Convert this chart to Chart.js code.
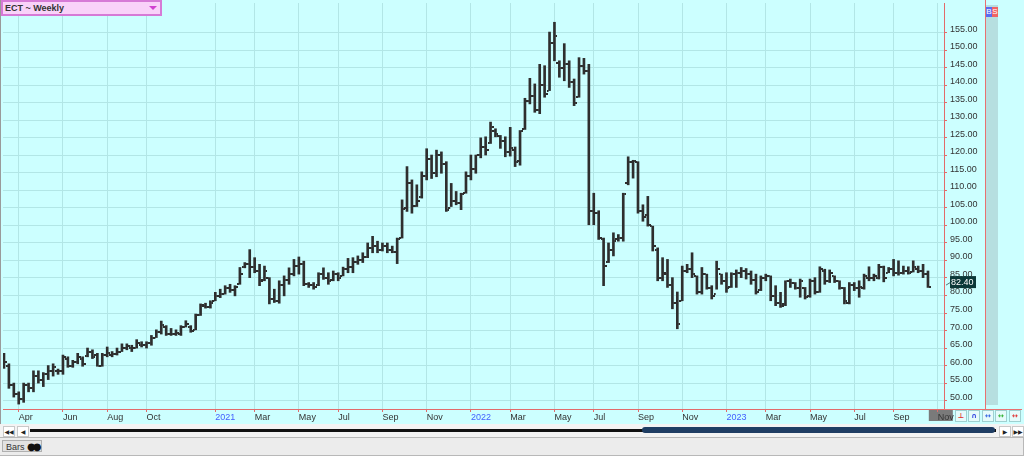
<!DOCTYPE html>
<html>
<head>
<meta charset="utf-8">
<title>ECT ~ Weekly</title>
<script src="https://cdn.jsdelivr.net/npm/chart.js@4.4.0/dist/chart.umd.min.js"></script>
<style>
  html, body { margin: 0; padding: 0; }
  body { width: 1024px; height: 456px; overflow: hidden; background: #ccffff; font-family: "Liberation Sans", Arial, sans-serif; }
  #wrap { position: relative; width: 1024px; height: 456px; }
  #grafico { position: absolute; left: 0; top: 0; }
  .abs { position: absolute; }
  #bordeIzq { left: 0; top: 0; width: 1px; height: 424px; background: #9a9a9a; }
  #titulo { left: 1px; top: 0; width: 155px; height: 12px; background: #f9d2f9; border: 2px solid #d67ad6; font: bold 9px "Liberation Sans", Arial, sans-serif; color: #333; line-height: 12px; padding-left: 2px; }
  #titulo .flecha { position: absolute; right: 3px; top: 4px; width: 0; height: 0; border-left: 4px solid transparent; border-right: 4px solid transparent; border-top: 4px solid #d040d0; }
  #lineaRoja { left: 985px; top: 0; width: 1px; height: 409px; background: #e87070; }
  #franja { left: 986px; top: 5px; width: 12px; height: 400px; background: #b6dfe0; }
  #ejeRojo { left: 944px; top: 409px; width: 78px; height: 1px; background: #e87070; }
  .bs { top: 7px; width: 6px; height: 10px; color: #fff; font: 8px "Liberation Sans", Arial, sans-serif; line-height: 10px; text-align: center; }
  #btnB { left: 986px; background: #5a6cf0; }
  #btnS { left: 992px; background: #f06464; }
  .icono { top: 410px; width: 10px; height: 10px; border: 1px solid #9fd0d0; background: #e6fbfb; font: bold 7px "DejaVu Sans", sans-serif; line-height: 10px; text-align: center; }
  #barraScroll { left: 0; top: 424px; width: 1024px; height: 13px; background: #f3f3f3; }
  .btnScroll { top: 426px; width: 10px; height: 9px; background: #fff; border: 1px solid #c8c8c8; font: 6px "DejaVu Sans", sans-serif; line-height: 9px; text-align: center; color: #222; }
  #pista { left: 30px; top: 429px; width: 966px; height: 3px; background: #111; }
  #pulgar { left: 642px; top: 427px; width: 353px; height: 6px; background: #1f3d63; border-radius: 3px; }
  #panel { left: 0; top: 437px; width: 1023px; height: 17px; background: #ececec; border-top: 1px solid #b8b8b8; border-bottom: 1px solid #b8b8b8; border-right: 1px solid #b8b8b8; }
  #pestana { left: 2px; top: 440px; width: 40px; height: 12px; background: #e2e2e2; border: 1px solid #b0b0b0; font: 9px "Liberation Sans", Arial, sans-serif; color: #333; line-height: 12px; padding-left: 3px; box-sizing: border-box; white-space: nowrap; }
  #pestana span { font: 10px "DejaVu Sans", sans-serif; color: #111; letter-spacing: -3px; vertical-align: top; }
</style>
</head>
<body>
<div id="wrap">
  <canvas id="grafico" width="986" height="424"></canvas>
  <div id="bordeIzq" class="abs"></div>
  <div id="titulo" class="abs">ECT ~ Weekly<span class="flecha"></span></div>
  <div id="lineaRoja" class="abs"></div>
  <div id="franja" class="abs"></div>
  <div id="ejeRojo" class="abs"></div>
  <div id="btnB" class="abs bs">B</div>
  <div id="btnS" class="abs bs">S</div>
  <div class="abs icono" style="left:955px;color:#e03030">⊥</div>
  <div class="abs icono" style="left:968px;color:#3040e0">∩</div>
  <div class="abs icono" style="left:982px;color:#3060e0">↔</div>
  <div class="abs icono" style="left:995px;color:#30b030">↔</div>
  <div class="abs icono" style="left:1009px;color:#e03030">↔</div>
  <div id="barraScroll" class="abs"></div>
  <div class="abs btnScroll" style="left:3px">◀◀</div>
  <div class="abs btnScroll" style="left:17px">◀</div>
  <div id="pista" class="abs"></div>
  <div id="pulgar" class="abs"></div>
  <div class="abs btnScroll" style="left:999px">▶</div>
  <div class="abs btnScroll" style="left:1012px">▶▶</div>
  <div id="panel" class="abs"></div>
  <div id="pestana" class="abs">Bars <span>●●</span></div>
</div>
<script>
// Weekly bars, ECT
const highs = [
  63.5, 60.5, 55.0, 52.5, 55.0, 55.0, 58.5, 58.5, 58.0, 60.0,
  60.5, 59.0, 63.0, 62.5, 61.5, 63.5, 62.5, 65.0, 64.5, 63.5,
  63.5, 65.3, 64.0, 65.0, 66.2, 66.2, 65.8, 67.4, 66.8, 66.8,
  68.6, 70.2, 72.7, 71.4, 70.6, 70.2, 71.4, 72.8, 71.4, 74.7,
  77.6, 77.8, 78.5, 80.9, 81.8, 82.8, 83.2, 82.8, 88.0, 89.4,
  93.1, 90.8, 88.9, 88.4, 85.1, 81.8, 84.2, 85.6, 87.9, 90.3,
  91.0, 89.8, 83.7, 83.7, 86.5, 87.9, 86.5, 87.0, 86.5, 88.1,
  90.6, 90.8, 91.3, 92.2, 95.0, 96.9, 95.5, 95.0, 95.0, 94.1,
  96.4, 107.3, 116.8, 113.0, 111.6, 115.3, 121.9, 120.1, 121.5, 121.0,
  118.2, 112.0, 109.7, 109.2, 115.3, 120.1, 120.1, 125.0, 125.3, 129.5,
  127.6, 125.7, 125.3, 128.0, 122.4, 127.1, 136.3, 142.0, 140.4, 146.0,
  145.6, 155.2, 158.0, 147.0, 151.9, 147.0, 141.8, 147.9, 147.7, 146.0,
  109.2, 104.2, 96.4, 95.0, 97.9, 97.4, 109.2, 119.6, 118.6, 118.2,
  105.9, 108.3, 99.8, 93.6, 90.8, 90.3, 85.1, 81.0, 88.4, 88.9,
  92.2, 85.6, 88.0, 86.1, 82.8, 89.8, 86.1, 86.5, 86.5, 87.3,
  88.0, 87.7, 87.0, 86.1, 85.6, 86.1, 85.6, 82.8, 80.9, 84.2,
  84.7, 83.7, 84.7, 82.3, 84.7, 85.1, 88.2, 87.5, 87.3, 85.6,
  84.2, 82.3, 83.7, 83.7, 84.2, 86.1, 88.2, 86.1, 88.9, 88.4,
  88.0, 90.3, 89.9, 88.4, 88.2, 89.9, 88.4, 88.9, 87.0
];
const lows = [
  59.2, 53.5, 51.0, 49.0, 49.5, 52.5, 52.5, 55.0, 54.0, 56.0,
  57.0, 57.5, 57.5, 59.5, 59.5, 60.5, 59.8, 62.5, 62.0, 59.8,
  59.8, 62.5, 62.5, 63.0, 64.0, 64.5, 64.0, 65.0, 65.3, 65.0,
  65.8, 68.0, 69.0, 68.6, 68.6, 68.6, 68.6, 71.0, 69.5, 70.2,
  74.3, 76.4, 76.4, 78.5, 79.4, 80.4, 80.9, 79.9, 83.2, 87.9,
  85.1, 86.5, 82.8, 84.2, 77.6, 78.0, 77.8, 79.9, 83.2, 85.6,
  86.1, 82.8, 82.3, 81.8, 82.8, 84.6, 83.2, 84.2, 84.2, 85.6,
  86.5, 86.5, 88.9, 89.4, 90.8, 92.2, 92.2, 92.7, 92.2, 92.2,
  89.1, 96.4, 104.0, 103.5, 105.4, 107.8, 113.0, 113.4, 113.9, 114.9,
  104.0, 105.4, 105.9, 104.5, 109.2, 113.0, 114.9, 119.3, 120.1, 123.4,
  125.3, 122.0, 119.6, 119.8, 116.8, 117.2, 127.4, 134.7, 132.3, 131.9,
  136.6, 138.5, 147.0, 142.3, 141.3, 139.4, 134.2, 136.6, 143.2, 100.2,
  100.2, 96.0, 82.8, 89.4, 91.3, 95.5, 95.5, 111.6, 113.5, 103.5,
  101.2, 99.8, 92.7, 84.2, 84.2, 82.3, 76.2, 70.5, 78.5, 86.5,
  85.1, 80.4, 80.4, 81.8, 79.0, 81.8, 83.2, 80.9, 82.3, 82.3,
  85.1, 84.7, 83.2, 80.4, 81.4, 84.2, 78.5, 77.1, 76.6, 77.1,
  82.3, 81.8, 79.5, 79.0, 79.5, 80.4, 80.9, 83.2, 83.7, 83.7,
  81.8, 77.6, 77.6, 81.4, 79.5, 81.8, 84.2, 84.2, 84.7, 83.9,
  86.5, 85.6, 85.8, 86.1, 86.1, 86.7, 86.5, 85.1, 82.3
];
const opens = [
  63.0, 60.0, 54.5, 52.0, 50.5, 54.5, 53.5, 57.0, 56.0, 57.5,
  58.5, 58.5, 58.5, 62.0, 60.0, 61.0, 62.0, 62.8, 64.0, 63.0,
  60.0, 63.0, 63.0, 63.2, 64.0, 65.0, 65.0, 65.0, 66.0, 66.0,
  66.3, 68.0, 69.5, 71.0, 69.0, 69.0, 69.0, 71.0, 71.0, 70.2,
  74.3, 77.0, 76.8, 78.5, 80.0, 80.5, 82.0, 81.5, 83.2, 88.0,
  89.0, 88.0, 87.0, 84.5, 85.0, 79.0, 78.5, 83.0, 84.5, 86.0,
  88.5, 89.0, 83.2, 83.0, 83.0, 86.0, 85.0, 84.5, 86.0, 85.6,
  87.5, 88.0, 89.5, 90.0, 91.0, 93.5, 94.0, 93.0, 94.0, 93.0,
  92.5, 96.4, 105.0, 112.0, 105.5, 108.0, 114.0, 119.0, 115.0, 120.0,
  117.5, 105.0, 107.0, 106.5, 109.2, 114.0, 116.0, 120.0, 122.5, 123.5,
  127.0, 125.5, 124.0, 121.0, 121.5, 118.5, 127.4, 135.5, 137.0, 133.0,
  140.0, 138.5, 152.0, 146.5, 145.0, 146.0, 141.0, 136.6, 145.5, 144.0,
  104.0, 103.5, 96.0, 89.5, 93.0, 96.0, 96.5, 112.0, 118.0, 118.0,
  104.0, 103.0, 99.8, 93.0, 85.0, 86.0, 83.0, 78.0, 78.5, 87.0,
  87.5, 85.5, 81.0, 86.0, 82.0, 80.5, 86.0, 84.0, 82.5, 86.0,
  86.5, 87.0, 86.0, 84.5, 81.5, 85.0, 85.5, 80.0, 78.0, 77.5,
  84.0, 83.5, 82.0, 82.0, 80.0, 84.0, 81.0, 87.0, 84.0, 85.5,
  84.0, 82.0, 78.0, 83.0, 82.0, 82.0, 85.0, 85.0, 85.0, 88.0,
  86.5, 87.5, 86.5, 86.5, 87.0, 86.8, 87.5, 87.0, 86.0
];
const closes = [
  61.0, 54.5, 52.0, 50.5, 54.5, 53.5, 57.0, 56.0, 57.5, 58.5,
  59.5, 58.5, 62.5, 60.0, 61.0, 62.5, 60.5, 64.0, 62.5, 60.0,
  63.0, 63.5, 63.2, 64.0, 65.0, 65.5, 65.0, 66.5, 66.0, 66.3,
  68.0, 69.5, 71.5, 69.0, 69.0, 69.2, 71.0, 72.0, 70.0, 74.3,
  77.3, 76.8, 78.0, 80.0, 80.5, 82.0, 81.5, 82.5, 86.0, 89.0,
  88.0, 87.0, 84.0, 87.0, 79.0, 78.5, 83.0, 84.5, 86.0, 88.5,
  89.0, 83.2, 83.0, 82.5, 86.0, 85.0, 84.0, 86.0, 85.0, 87.5,
  88.0, 89.5, 90.0, 91.0, 93.5, 94.0, 93.0, 94.0, 93.0, 92.5,
  96.0, 104.7, 112.0, 105.5, 107.0, 114.0, 119.0, 115.0, 120.0, 117.5,
  104.5, 107.0, 106.5, 109.0, 114.0, 116.0, 120.0, 122.5, 121.5, 128.0,
  126.0, 124.0, 121.0, 122.0, 118.0, 127.0, 135.5, 137.0, 133.0, 140.0,
  137.5, 152.0, 154.0, 145.0, 146.0, 141.0, 135.0, 145.5, 144.0, 104.0,
  103.5, 96.5, 88.5, 93.0, 95.5, 96.5, 109.0, 118.0, 118.5, 104.0,
  102.5, 100.0, 94.0, 85.0, 86.5, 83.0, 78.0, 72.0, 87.0, 87.5,
  86.0, 81.0, 86.0, 82.0, 80.0, 87.5, 84.0, 82.0, 86.0, 86.5,
  87.0, 86.0, 84.5, 81.0, 85.0, 85.5, 80.0, 78.0, 77.0, 84.0,
  83.5, 82.0, 84.0, 79.5, 84.0, 81.0, 87.5, 84.0, 86.5, 84.0,
  82.0, 78.5, 83.0, 82.0, 82.5, 85.5, 85.0, 85.5, 88.0, 85.0,
  87.5, 86.5, 86.5, 87.0, 86.5, 88.0, 87.0, 86.0, 82.4
];

// Axis ticks: bar index of each month mark, and its label
const tickIdx = [3, 12, 21, 29, 43, 51, 60, 68, 77, 86, 95, 103, 112, 120, 129, 138, 147, 155, 164, 173, 181, 190];
const tickLabels = ['Apr', 'Jun', 'Aug', 'Oct', '2021', 'Mar', 'May', 'Jul', 'Sep', 'Nov', '2022', 'Mar', 'May', 'Jul', 'Sep', 'Nov', '2023', 'Mar', 'May', 'Jul', 'Sep', 'Nov'];
const priceTicks = [50, 55, 60, 65, 70, 75, 80, 85, 90, 95, 100, 105, 110, 115, 120, 125, 130, 135, 140, 145, 150, 155];

const colorBarra = '#2e2e2e';
const colorRojo = '#e26a6a';
const colorGrid = '#b2e6e6';

// Small marks for open (left) and close (right)
function crearMarca(lado) {
  const c = document.createElement('canvas');
  c.width = 6;
  c.height = 2;
  const g = c.getContext('2d');
  g.fillStyle = colorBarra;
  g.fillRect(lado === 'izq' ? 0 : 4, 0, 2, 2);
  return c;
}

const rangos = highs.map((h, i) => ({ x: i, y: [lows[i], h] }));
const aperturas = opens.map((v, i) => ({ x: i, y: v }));
const cierres = closes.map((v, i) => ({ x: i, y: v }));

// Highlight the current month label and show the last price
const extras = {
  id: 'extras',
  beforeDraw(chart) {
    const ctx = chart.ctx;
    const xs = chart.scales.x;
    const px = xs.getPixelForValue(tickIdx[tickIdx.length - 1]);
    ctx.save();
    ctx.fillStyle = '#7a7a7a';
    ctx.fillRect(px - 9, xs.top + 1, 24, 11);
    ctx.restore();
  },
  afterDraw(chart) {
    const ctx = chart.ctx;
    const area = chart.chartArea;
    const ultimo = closes[closes.length - 1];
    const py = chart.scales.y.getPixelForValue(ultimo);
    ctx.save();
    ctx.strokeStyle = '#557777';
    ctx.lineWidth = 1;
    ctx.beginPath();
    ctx.moveTo(area.right + 2, py - 2);
    ctx.lineTo(area.right + 7, py - 5);
    ctx.stroke();
    ctx.fillStyle = '#0b3838';
    ctx.fillRect(area.right + 6, py - 11, 26, 12);
    ctx.fillStyle = '#ffffff';
    ctx.font = '9px "Liberation Sans", Arial, sans-serif';
    ctx.textBaseline = 'middle';
    ctx.fillText(ultimo.toFixed(2), area.right + 7, py - 4.5);
    ctx.restore();
  }
};

const ctx = document.getElementById('grafico').getContext('2d');
window.graficoSemanal = new Chart(ctx, {
  type: 'bar',
  data: {
    datasets: [
      {
        type: 'bar',
        data: rangos,
        backgroundColor: colorBarra,
        borderWidth: 0,
        borderSkipped: false,
        barThickness: 2
      },
      {
        type: 'scatter',
        data: aperturas,
        pointStyle: crearMarca('izq'),
        pointRadius: 2,
        pointHoverRadius: 2
      },
      {
        type: 'scatter',
        data: cierres,
        pointStyle: crearMarca('der'),
        pointRadius: 2,
        pointHoverRadius: 2
      }
    ]
  },
  plugins: [extras],
  options: {
    responsive: false,
    animation: false,
    devicePixelRatio: 1,
    layout: { padding: { left: 2, top: 0, right: 0, bottom: 0 } },
    plugins: {
      legend: { display: false },
      tooltip: { enabled: false }
    },
    scales: {
      x: {
        type: 'linear',
        offset: false,
        min: -0.2,
        max: 191.26,
        afterBuildTicks: scale => { scale.ticks = tickIdx.map(v => ({ value: v })); },
        afterFit: scale => {
          scale.height = 15;
          scale.paddingLeft = 0;
          scale.paddingRight = 0;
        },
        border: { display: true, color: colorRojo, width: 1 },
        grid: { offset: false, color: colorGrid, tickColor: colorRojo, tickLength: 3, drawTicks: true },
        ticks: {
          autoSkip: false,
          maxRotation: 0,
          align: 'start',
          padding: 0,
          font: { family: '"Liberation Sans", Arial, sans-serif', size: 9 },
          color: c => /^\d{4}$/.test(tickLabels[c.index]) ? '#4360ff' : '#333333',
          callback: (val, i) => tickLabels[i]
        }
      },
      y: {
        position: 'right',
        min: 47.6,
        max: 163.5,
        afterBuildTicks: scale => { scale.ticks = priceTicks.map(v => ({ value: v })); },
        afterFit: scale => {
          scale.width = 42;
          scale.paddingTop = 0;
          scale.paddingBottom = 0;
        },
        border: { display: true, color: colorRojo, width: 1 },
        grid: { color: colorGrid, tickColor: colorRojo, tickLength: 3, drawTicks: true },
        ticks: {
          padding: 3,
          labelOffset: -3.5,
          font: { family: '"Liberation Sans", Arial, sans-serif', size: 9 },
          color: '#333333',
          callback: v => Number(v).toFixed(2)
        }
      }
    }
  }
});
</script>
</body>
</html>
